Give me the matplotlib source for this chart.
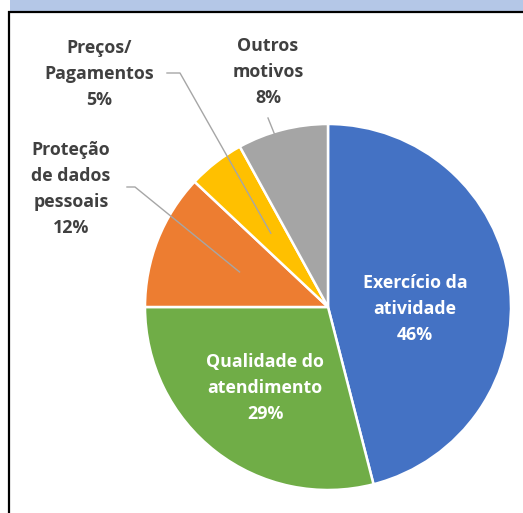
import numpy as np
import matplotlib
matplotlib.use("Agg")
import matplotlib.pyplot as plt
from matplotlib.patches import Rectangle

# ---- data ----
categories = ["Exercício da\natividade", "Qualidade do\natendimento",
              "Proteção\nde dados\npessoais", "Preços/\nPagamentos", "Outros\nmotivos"]
values = [46, 29, 12, 5, 8]
pct_labels = ["46%", "29%", "12%", "5%", "8%"]
colors = ["#4472C4", "#70AD47", "#ED7D31", "#FFC000", "#A5A5A5"]

W, H = 523, 513
fig = plt.figure(figsize=(W / 100, H / 100), dpi=100)
ax = fig.add_axes([0, 0, 1, 1])

def py(y):  # pixel row -> data y
    return H - y

cx, cy, R = 328, py(307), 183
wedges, _ = ax.pie(values, colors=colors, startangle=90, counterclock=False,
                   center=(cx, cy), radius=R,
                   wedgeprops=dict(edgecolor="white", linewidth=1.8))
ax.set_xlim(0, W)
ax.set_ylim(0, H)
ax.set_aspect("auto")
ax.axis("off")

# header band and borders
ax.add_patch(Rectangle((10, py(11)), W - 10, 11, facecolor="#B4C7E7", edgecolor="none", zorder=5))
ax.plot([8, W], [py(12), py(12)], color="black", lw=1.6, zorder=6, solid_capstyle="butt")
ax.plot([9, 9], [py(11), 0], color="black", lw=1.6, zorder=6, solid_capstyle="butt")

font = dict(family="Open Sans", fontweight="bold", fontsize=12.8)
txtcol = "#404040"
line_h = 26

# (label center x, first-line center y in px, color)
label_pos = [(415, 283, "white"), (265, 362, "white"),
             (71, 150, txtcol), (99, 48, txtcol), (268, 46, txtcol)]

for i, (cat, pct) in enumerate(zip(categories, pct_labels)):
    lines = cat.split("\n") + [pct]
    x0, y0, col = label_pos[i]
    for j, ln in enumerate(lines):
        ax.text(x0, py(y0 + j * line_h), ln, ha="center", va="center",
                color=col, zorder=7, **font)

# leader lines computed from wedge mid-angles
def mid_point(i, frac, dang=0.0):
    w = wedges[i]
    a = np.deg2rad((w.theta1 + w.theta2) / 2 + dang)
    return cx + frac * R * np.cos(a), cy + frac * R * np.sin(a)

lc = "#A6A6A6"
# Preços
ex, ey = mid_point(3, 0.51)
ax.plot([167, 180, ex], [py(73), py(73), ey], color=lc, lw=1.0, zorder=4)
# Proteção
ex, ey = mid_point(2, 0.52)
ax.plot([127, 135, ex], [py(187), py(187), ey], color=lc, lw=1.0, zorder=4)
# Outros
ex, ey = mid_point(4, 0.99, 2.8)
ax.plot([268, ex], [py(118), ey], color=lc, lw=1.0, zorder=4)

fig.savefig("out.png", dpi=100)
